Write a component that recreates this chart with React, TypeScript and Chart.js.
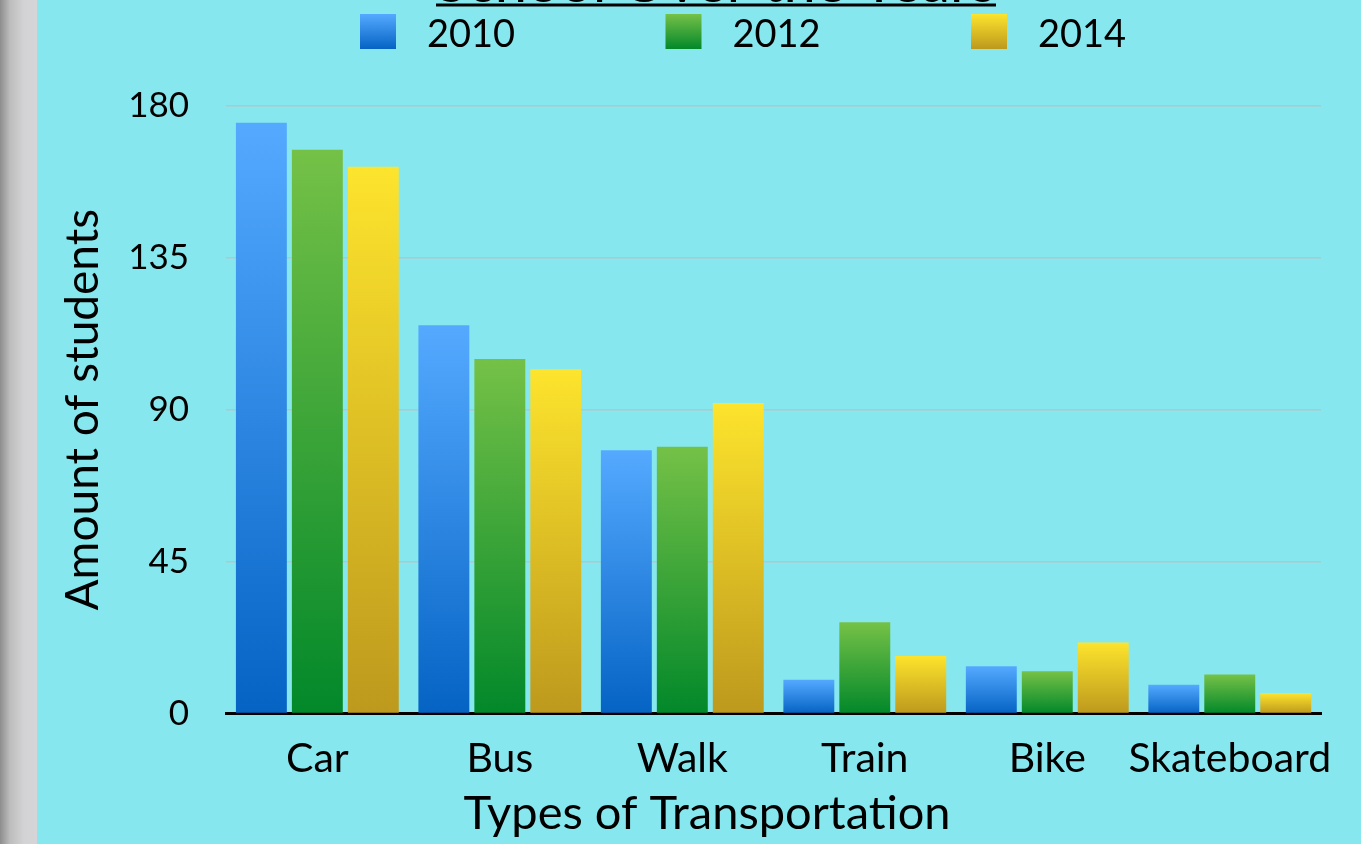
import React, { useEffect, useRef } from "react";
import { Chart, registerables } from "chart.js";

Chart.register(...registerables);

const categories = ["Car", "Bus", "Walk", "Train", "Bike", "Skateboard"];
const series2010 = [175, 115, 78, 10, 14, 8.5];
const series2012 = [167, 105, 79, 27, 12.5, 11.5];
const series2014 = [162, 102, 92, 17, 21, 6];
const seriesLabels = ["2010", "2012", "2014"];
const yTicks = [0, 45, 90, 135, 180];
const titleText = "School Over the Years";
const xTitle = "Types of Transportation";
const yTitle = "Amount of students";
const gradients = [
  ["#55aaff", "#0563c4"],
  ["#75c147", "#02882a"],
  ["#fde42d", "#bd991d"],
];

const FONT = "Lato, 'Noto Sans', sans-serif";
const X_TITLE_SIZE = 47;

function barFill(idx: number) {
  return (ctx: any) => {
    const chart = ctx.chart;
    const area = chart.chartArea;
    const [c1, c2] = gradients[idx];
    if (!area || ctx.type !== "data") return c1;
    const ys = chart.scales.y;
    const v = ctx.parsed ? ctx.parsed.y : ctx.raw;
    const top = ys.getPixelForValue(v);
    const base = ys.getPixelForValue(0);
    if (!isFinite(top) || !isFinite(base) || Math.abs(base - top) < 1) return c1;
    const g = chart.ctx.createLinearGradient(0, top, 0, base);
    g.addColorStop(0, c1);
    g.addColorStop(1, c2);
    return g;
  };
}

const headerPlugin = {
  id: "header",
  afterDraw(chart: any) {
    const ctx = chart.ctx;
    ctx.save();
    // title (mostly cut off at the top)
    ctx.font = `40px ${FONT}`;
    const w0 = ctx.measureText(titleText).width;
    const size = (40 * 560) / w0;
    ctx.font = `${size}px ${FONT}`;
    const tw = ctx.measureText(titleText).width;
    const cx = 716;
    ctx.fillStyle = "#000";
    ctx.textAlign = "center";
    ctx.textBaseline = "alphabetic";
    ctx.fillText(titleText, cx, 2);
    ctx.fillRect(cx - tw / 2, 3.5, tw, 3);
    // legend
    ctx.font = `38px ${FONT}`;
    ctx.textAlign = "left";
    const startX = 360;
    const step = 305.5;
    seriesLabels.forEach((lab, i) => {
      const x = startX + i * step;
      const g = ctx.createLinearGradient(0, 14, 0, 49);
      g.addColorStop(0, gradients[i][0]);
      g.addColorStop(1, gradients[i][1]);
      ctx.fillStyle = g;
      ctx.fillRect(x, 14, 36, 35);
      ctx.fillStyle = "#000";
      ctx.fillText(lab, x + 67, 47);
    });
    // x-axis title (offset left of the plot centre, as in the source)
    const xs = chart.scales.x;
    const lh = X_TITLE_SIZE * 1.2;
    const ty = xs.bottom - 2 - lh / 2;
    ctx.font = `${X_TITLE_SIZE}px ${FONT}`;
    ctx.textAlign = "center";
    ctx.textBaseline = "middle";
    ctx.fillText(xTitle, 707, ty);
    ctx.restore();
  },
};

export default function App() {
  const ref = useRef<HTMLCanvasElement | null>(null);

  useEffect(() => {
    if (!ref.current) return;
    const data = [series2010, series2012, series2014];
    const chart = new Chart(ref.current, {
      type: "bar",
      data: {
        labels: categories,
        datasets: seriesLabels.map((lab, i) => ({
          label: lab,
          data: data[i],
          backgroundColor: barFill(i),
          borderWidth: 0,
          categoryPercentage: 0.92,
          barPercentage: 0.91,
        })),
      },
      options: {
        responsive: false,
        animation: false,
        events: [],
        layout: { padding: { top: 106, left: 50, right: 40, bottom: 0 } },
        plugins: {
          legend: { display: false },
          title: { display: false },
          tooltip: { enabled: false },
        },
        scales: {
          x: {
            grid: { display: false, drawTicks: false },
            border: { display: true, color: "#000", width: 3 },
            ticks: {
              color: "#000",
              padding: 21,
              autoSkip: false,
              maxRotation: 0,
              minRotation: 0,
              font: { family: FONT, size: 41 },
            },
            title: {
              display: true,
              text: xTitle,
              color: "rgba(0,0,0,0)",
              font: { family: FONT, size: X_TITLE_SIZE },
              padding: { top: -20, bottom: 3 },
            },
          },
          y: {
            min: 0,
            max: 180,
            afterBuildTicks: (axis: any) => {
              axis.ticks = yTicks.map((v) => ({ value: v }));
            },
            grid: { color: "#b5c5c8", lineWidth: 1.5, drawTicks: false },
            border: { display: false },
            ticks: { color: "#000", padding: 37, font: { family: FONT, size: 35 } },
            title: {
              display: true,
              text: yTitle,
              color: "#000",
              font: { family: FONT, size: 46 },
              padding: { top: 6, bottom: -20 },
            },
          },
        },
      },
      plugins: [headerPlugin],
    });
    return () => chart.destroy();
  }, []);

  return (
    <div
      style={{
        position: "fixed",
        left: 0,
        top: 0,
        width: 1361,
        height: 844,
        overflow: "hidden",
        background:
          "linear-gradient(to right, #8d8d8d 0px, #bdbdbd 10px, #d3d3d5 24px, #d5d5d7 37px, #86e8ee 37px)",
      }}
    >
      <canvas
        ref={ref}
        width={1361}
        height={844}
        style={{ position: "absolute", left: 0, top: 0, width: 1361, height: 844 }}
      />
    </div>
  );
}
